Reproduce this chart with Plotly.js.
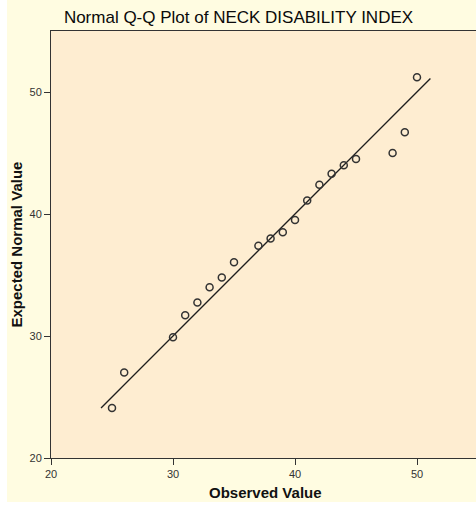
<!DOCTYPE html>
<html>
<head>
<meta charset="utf-8">
<script src="https://cdn.plot.ly/plotly-3.0.1.min.js"></script>
<style>
  html, body { margin: 0; padding: 0; background: #ffffff; width: 476px; height: 506px; overflow: hidden; }
  #chart { position: absolute; left: 7px; top: 0px; width: 473px; height: 502px; overflow: hidden; }
</style>
</head>
<body>
<div id="chart"></div>
<script>
// Observed values (NECK DISABILITY INDEX) and their expected normal values
const observed = [25, 26, 30, 31, 32, 33, 34, 35, 37, 38, 39, 40, 41, 42, 43, 44, 45, 48, 49, 50];
const expected = [24.1, 27.0, 29.9, 31.7, 32.75, 34.0, 34.8, 36.05, 37.4, 38.0, 38.5, 39.5, 41.1, 42.4, 43.3, 44.0, 44.5, 45.0, 46.7, 51.2];
// Reference line (expected = observed)
const refLine = [24.1, 51.1];
const tickValues = [20, 30, 40, 50];
const tickLabels = ['20', '30', '40', '50'];
const xTitle = 'Observed Value';
const yTitle = 'Expected Normal Value';

const font = 'Liberation Sans, Arial, sans-serif';

const traces = [
  {
    x: refLine, y: refLine,
    type: 'scatter', mode: 'lines',
    line: { color: '#1e1e1e', width: 1.3 },
    hoverinfo: 'skip'
  },
  {
    x: observed, y: expected,
    type: 'scatter', mode: 'markers',
    marker: { symbol: 'circle-open', size: 7, color: '#333333', line: { width: 1.5, color: '#333333' } }
  }
];

const axisCommon = {
  range: [20, 55],
  tickvals: tickValues,
  ticktext: tickLabels,
  ticks: 'outside',
  ticklen: 6,
  tickwidth: 1,
  tickcolor: '#333333',
  showline: true,
  linecolor: '#333333',
  linewidth: 1,
  mirror: true,
  showgrid: false,
  zeroline: false,
  tickfont: { family: font, size: 11, color: '#333333' },
  fixedrange: true
};

const titleFont = { family: font, size: 15, color: '#111111' };

const layout = {
  width: 473, height: 502,
  margin: { l: 44, r: 2, t: 31, b: 44 },
  paper_bgcolor: '#FFFCE1',
  plot_bgcolor: '#FEEDD1',
  showlegend: false,
  title: {
    text: 'Normal Q-Q Plot of NECK DISABILITY INDEX',
    font: { family: font, size: 17, color: '#0a0a0a' },
    xref: 'container', yref: 'container',
    x: 231.5 / 473, xanchor: 'center',
    y: 1 - 17.5 / 502, yanchor: 'middle'
  },
  xaxis: Object.assign({}, axisCommon),
  yaxis: Object.assign({}, axisCommon),
  annotations: [
    {
      text: '<b>' + xTitle + '</b>', font: titleFont, showarrow: false,
      xref: 'paper', yref: 'paper', x: 0.5, y: 0,
      xanchor: 'center', yanchor: 'middle', xshift: 1, yshift: -34
    },
    {
      text: '<b>' + yTitle + '</b>', font: titleFont, showarrow: false, textangle: -90,
      xref: 'paper', yref: 'paper', x: 0, y: 0.5,
      xanchor: 'center', yanchor: 'middle', xshift: -35, yshift: 0
    }
  ]
};

Plotly.newPlot('chart', traces, layout, { displayModeBar: false, staticPlot: true });
</script>
</body>
</html>
